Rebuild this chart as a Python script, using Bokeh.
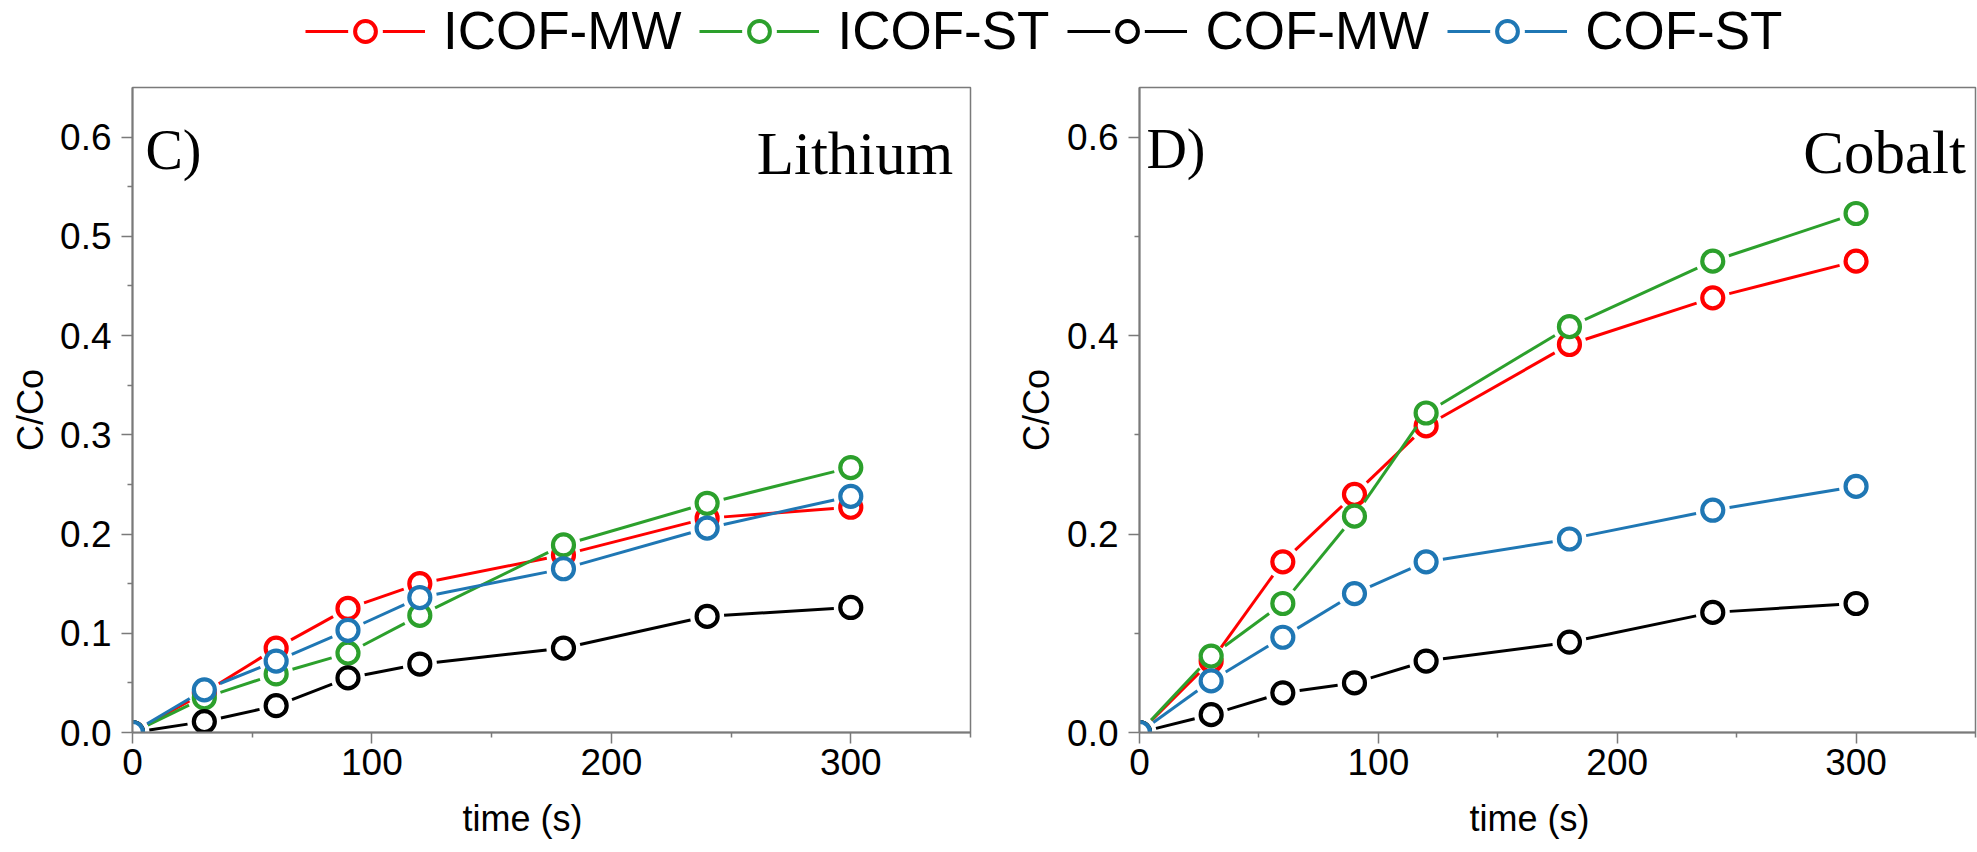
import math
from bokeh.plotting import figure
from bokeh.models import (Range1d, FixedTicker, PrintfTickFormatter, Label,
                          Legend, LegendItem, Title)
from bokeh.layouts import column, row
from bokeh.embed import file_html
from bokeh.resources import INLINE

# ---------------- data ----------------
time_s = [0, 30, 60, 90, 120, 180, 240, 300]
series_names = ["ICOF-MW", "ICOF-ST", "COF-MW", "COF-ST"]
series_colors = ["#ff0000", "#2ca02c", "#000000", "#1f77b4"]

li_icof_mw = [0, 0.040, 0.085, 0.125, 0.150, 0.179, 0.216, 0.227]
li_icof_st = [0, 0.035, 0.059, 0.080, 0.118, 0.189, 0.231, 0.267]
li_cof_mw = [0, 0.011, 0.027, 0.055, 0.069, 0.085, 0.117, 0.126]
li_cof_st = [0, 0.043, 0.072, 0.103, 0.136, 0.165, 0.206, 0.238]

co_icof_mw = [0, 0.072, 0.172, 0.240, 0.309, 0.391, 0.438, 0.475]
co_icof_st = [0, 0.077, 0.130, 0.218, 0.322, 0.409, 0.475, 0.523]
co_cof_mw = [0, 0.018, 0.040, 0.050, 0.072, 0.091, 0.121, 0.130]
co_cof_st = [0, 0.052, 0.096, 0.140, 0.172, 0.195, 0.224, 0.248]

x_ticks = [0, 100, 200, 300]
x_minor = [50, 150, 250, 350]
li_yticks = [0.0, 0.1, 0.2, 0.3, 0.4, 0.5, 0.6]
li_yminor = [0.05, 0.15, 0.25, 0.35, 0.45, 0.55]
co_yticks = [0.0, 0.2, 0.4, 0.6]
co_yminor = [0.1, 0.3, 0.5]

X_MAX = 350
Y_MAX = 0.65

SANS = "Liberation Sans"
SERIF = "Liberation Serif"
AXIS_GREY = "#7a7a7a"


def gapped(xs, ys, px_x, px_y, gap):
    x0, y0, x1, y1 = [], [], [], []
    for i in range(len(xs) - 1):
        dx = xs[i + 1] - xs[i]
        dy = ys[i + 1] - ys[i]
        L = math.hypot(dx * px_x, dy * px_y)
        t = min(gap / L, 0.45) if L > 0 else 0
        x0.append(xs[i] + dx * t)
        y0.append(ys[i] + dy * t)
        x1.append(xs[i + 1] - dx * t)
        y1.append(ys[i + 1] - dy * t)
    return x0, y0, x1, y1


def make_panel(series, yticks, yminor, letter, metal, fw, fh, bl, bt, bb, br,
               letter_xy, metal_xy, ylab_standoff):
    p = figure(frame_width=fw, frame_height=fh,
               min_border_left=bl, min_border_top=bt,
               min_border_bottom=bb, min_border_right=br,
               x_range=Range1d(0, X_MAX), y_range=Range1d(0, Y_MAX),
               output_backend="svg", toolbar_location=None, tools="")
    p.xgrid.visible = False
    p.ygrid.visible = False
    p.outline_line_color = AXIS_GREY
    p.outline_line_width = 1.5
    p.background_fill_color = "white"
    p.border_fill_color = "white"

    px_x = fw / X_MAX
    px_y = fh / Y_MAX
    for ys, c in zip(series, series_colors):
        x0, y0, x1, y1 = gapped(time_s, ys, px_x, px_y, 17)
        p.segment(x0=x0, y0=y0, x1=x1, y1=y1, line_color=c, line_width=3)
        p.scatter(x=time_s, y=ys, marker="circle", size=21,
                  fill_color="white", line_color=c, line_width=4.2)

    xa = p.xaxis[0]
    ya = p.yaxis[0]
    xa.ticker = FixedTicker(ticks=x_ticks, minor_ticks=x_minor)
    ya.ticker = FixedTicker(ticks=yticks, minor_ticks=yminor)
    xa.formatter = PrintfTickFormatter(format="%d")
    ya.formatter = PrintfTickFormatter(format="%.1f")
    ya.axis_label = "C/Co"
    for ax in (xa, ya):
        ax.axis_line_color = AXIS_GREY
        ax.axis_line_width = 2
        ax.major_tick_line_color = AXIS_GREY
        ax.minor_tick_line_color = AXIS_GREY
        ax.major_tick_line_width = 1.5
        ax.minor_tick_line_width = 1.5
        ax.major_tick_in = 0
        ax.major_tick_out = 11
        ax.minor_tick_in = 0
        ax.minor_tick_out = 5
        ax.major_label_text_font = SANS
        ax.major_label_text_font_size = "37px"
        ax.major_label_text_color = "black"
        ax.axis_label_text_font = SANS
        ax.axis_label_text_font_size = "36px"
        ax.axis_label_text_font_style = "normal"
        ax.axis_label_text_color = "black"
    xa.major_label_standoff = 5
    ya.major_label_standoff = 10
    ya.axis_label_standoff = ylab_standoff

    # x-axis title, slightly left of centre as in the original
    p.add_layout(Title(text="time (s)", align="left", offset=330,
                       text_font=SANS, text_font_size="36px",
                       text_font_style="normal", text_color="black",
                       standoff=36), "below")

    p.add_layout(Label(x=letter_xy[0], y=letter_xy[1], text=letter,
                       text_font=SERIF, text_font_size="56px",
                       text_align="left", text_baseline="alphabetic",
                       text_color="black"))
    p.add_layout(Label(x=metal_xy[0], y=metal_xy[1], text=metal,
                       text_font=SERIF, text_font_size="61px",
                       text_align="right", text_baseline="alphabetic",
                       text_color="black"))
    return p


left = make_panel([li_icof_mw, li_icof_st, li_cof_mw, li_cof_st],
                  li_yticks, li_yminor, "C)", "Lithium",
                  fw=838, fh=645, bl=132, bt=13, bb=124, br=30,
                  letter_xy=(5.4, 0.587), metal_xy=(342.8, 0.583),
                  ylab_standoff=6)
right = make_panel([co_icof_mw, co_icof_st, co_cof_mw, co_cof_st],
                   co_yticks, co_yminor, "D)", "Cobalt",
                   fw=836, fh=645, bl=139, bt=17, bb=120, br=2,
                   letter_xy=(2.9, 0.588), metal_xy=(346, 0.585),
                   ylab_standoff=7)

# ---------------- legend strip ----------------
# legend-only renderers: one point placed outside the strip's visible range
leg = figure(width=1977, height=70, x_range=Range1d(0, 1), y_range=Range1d(0, 1),
             min_border_left=305, min_border_top=0, min_border_right=0,
             min_border_bottom=0, x_axis_location=None, y_axis_location=None,
             output_backend="svg", toolbar_location=None, tools="")
leg.xgrid.visible = False
leg.ygrid.visible = False
leg.outline_line_color = None
items = []
for name, c in zip(series_names, series_colors):
    lr = leg.line(x=[-5, -4], y=[-5, -5], line_color=c, line_width=3.2)
    hr = leg.scatter(x=[-5], y=[-5], marker="circle", size=10,
                     fill_color="white", line_color="white", line_width=14)
    rr = leg.scatter(x=[-5], y=[-5], marker="circle", size=10,
                     fill_color="white", line_color=c, line_width=4)
    items.append(LegendItem(label=name, renderers=[lr, hr, rr]))
legend = Legend(items=items, orientation="horizontal", location="top_left",
                margin=0, padding=0, spacing=18, glyph_width=120,
                glyph_height=52, label_standoff=18,
                label_text_font=SANS, label_text_font_size="53px",
                label_text_color="black", border_line_color=None,
                background_fill_alpha=0)
leg.add_layout(legend)

page = column(leg, row(left, right, spacing=0), spacing=0)
open("out.html", "w").write(file_html(page, INLINE))
